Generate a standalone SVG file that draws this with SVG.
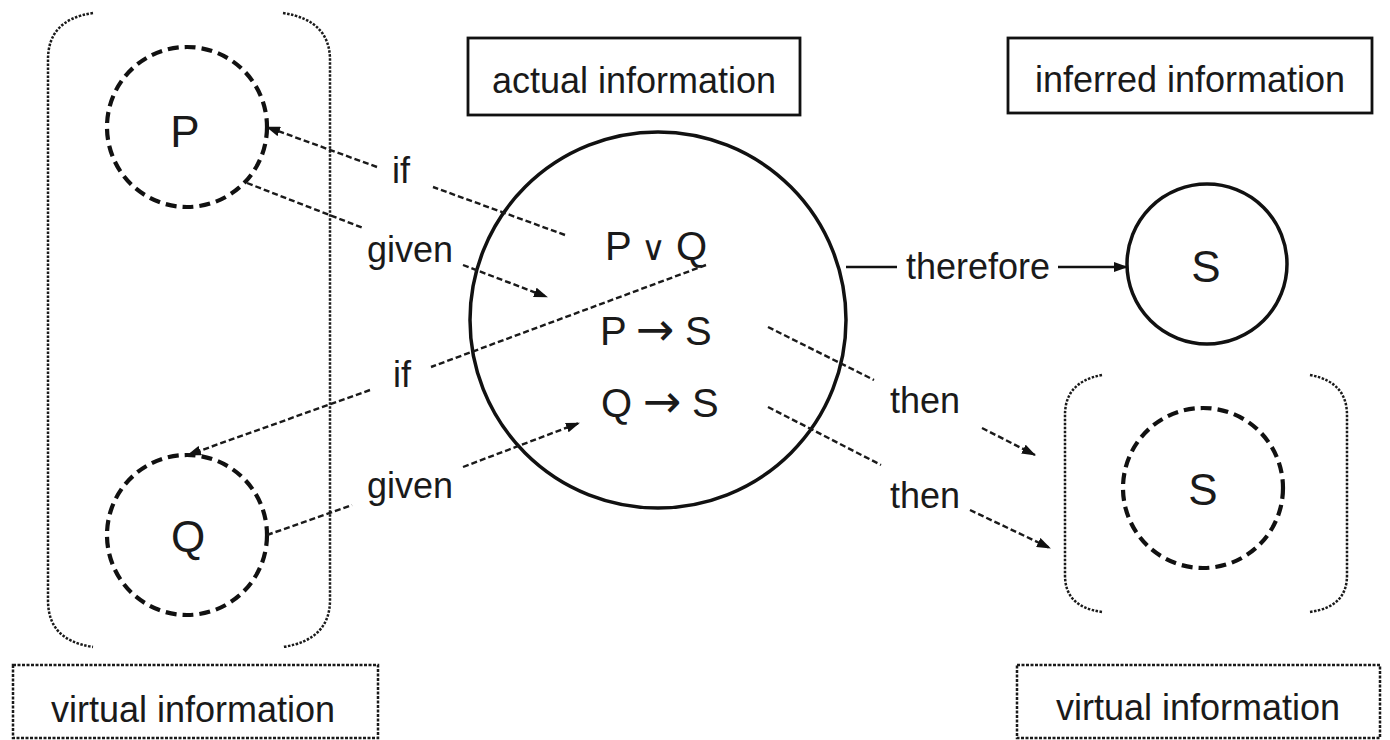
<svg xmlns="http://www.w3.org/2000/svg" width="1390" height="740" viewBox="0 0 1390 740">
<defs>
<marker id="ah" viewBox="0 0 14 10" refX="13" refY="5" markerWidth="14" markerHeight="10" markerUnits="userSpaceOnUse" orient="auto">
<path d="M0,0 L14,5 L0,10 z" fill="#111"/>
</marker>
</defs>
<style>
text{font-family:"Liberation Sans",Arial,sans-serif;fill:#1a1a1a;text-anchor:middle}
.lbl{font-size:36px}
.big{font-size:44px}
.math{font-size:40px;text-anchor:start}
.sym{font-family:"DejaVu Sans",sans-serif}
.bracket{fill:none;stroke:#1a1a1a;stroke-width:2.5;stroke-dasharray:2.5 1.5}
.dbox{fill:none;stroke:#1a1a1a;stroke-width:2.5;stroke-dasharray:3 1.5}
.sbox{fill:none;stroke:#111;stroke-width:2.8}
.dcirc{fill:none;stroke:#111;stroke-width:4.2;stroke-dasharray:11 6}
.scirc{fill:none;stroke:#111;stroke-width:3.5}
.dconn{fill:none;stroke:#1a1a1a;stroke-width:2.4;stroke-dasharray:6 3;marker-end:url(#ah)}
.sconn{fill:none;stroke:#111;stroke-width:2.5;marker-end:url(#ah)}
</style>
<rect width="1390" height="740" fill="#fff"/>

<g id="left-bracket">
<path class="bracket" d="M93 13 C60 18 48 35 48 60 L48 600 C48 625 60 642 93 647"/>
<path class="bracket" d="M283 13 C316 18 330 35 330 60 L330 600 C330 625 316 642 283 647"/>
</g>
<g id="right-bracket">
<path class="bracket" d="M1102 375 C1075 380 1065 395 1065 415 L1065 575 C1065 595 1075 608 1102 612"/>
<path class="bracket" d="M1310 375 C1337 380 1347 395 1347 415 L1347 575 C1347 595 1337 608 1310 612"/>
</g>

<g id="node-P">
<circle class="dcirc" cx="187" cy="127" r="80"/>
<text class="big" x="185" y="147">P</text>
</g>
<g id="node-Q">
<circle class="dcirc" cx="187" cy="535" r="80"/>
<text class="big" x="188" y="552">Q</text>
</g>
<g id="node-actual">
<circle class="scirc" cx="658" cy="320" r="188"/>
<text class="math" y="260"><tspan x="605">P</tspan><tspan class="sym" x="641" font-size="34">∨</tspan><tspan x="676">Q</tspan></text>
<text class="math" y="345"><tspan x="600">P</tspan><tspan class="sym" x="636" font-size="46">→</tspan><tspan x="685">S</tspan></text>
<text class="math" y="417"><tspan x="601">Q</tspan><tspan class="sym" x="643" font-size="46">→</tspan><tspan x="692">S</tspan></text>
</g>
<g id="node-S">
<circle class="scirc" cx="1207" cy="264" r="80"/>
<text class="big" x="1206" y="282">S</text>
</g>
<g id="node-S-virtual">
<circle class="dcirc" cx="1203" cy="488" r="80"/>
<text class="big" x="1203" y="505">S</text>
</g>

<g id="box-actual">
<rect class="sbox" x="468" y="38" width="332" height="77"/>
<text class="lbl" x="634" y="93">actual information</text>
</g>
<g id="box-inferred">
<rect class="sbox" x="1008" y="38" width="364" height="75"/>
<text class="lbl" x="1190" y="92">inferred information</text>
</g>
<g id="box-virtual-left">
<rect class="dbox" x="13" y="665" width="365" height="73"/>
<text class="lbl" x="193" y="722">virtual information</text>
</g>
<g id="box-virtual-right">
<rect class="dbox" x="1017" y="665" width="363" height="73"/>
<text class="lbl" x="1198" y="720">virtual information</text>
</g>

<g id="connectors">
<path class="dconn" d="M565 235 L433 187 M377 167 L267 127"/>
<text class="lbl" x="401" y="183">if</text>
<path class="dconn" d="M247 183 L363 228 M463 265 L547 297"/>
<text class="lbl" x="410" y="262">given</text>
<path class="dconn" d="M706 265 L431 367 M370 390 L188 455"/>
<text class="lbl" x="402" y="387">if</text>
<path class="dconn" d="M267 535 L352 505 M463 467 L579 423"/>
<text class="lbl" x="410" y="498">given</text>
<path class="sconn" d="M846 267 L897 267 M1058 267 L1127 267"/>
<text class="lbl" x="978" y="279">therefore</text>
<path class="dconn" d="M768 327 L874 380 M982 428 L1035 455"/>
<text class="lbl" x="925" y="413">then</text>
<path class="dconn" d="M768 407 L881 465 M970 510 L1050 548"/>
<text class="lbl" x="925" y="508">then</text>
</g>
</svg>
